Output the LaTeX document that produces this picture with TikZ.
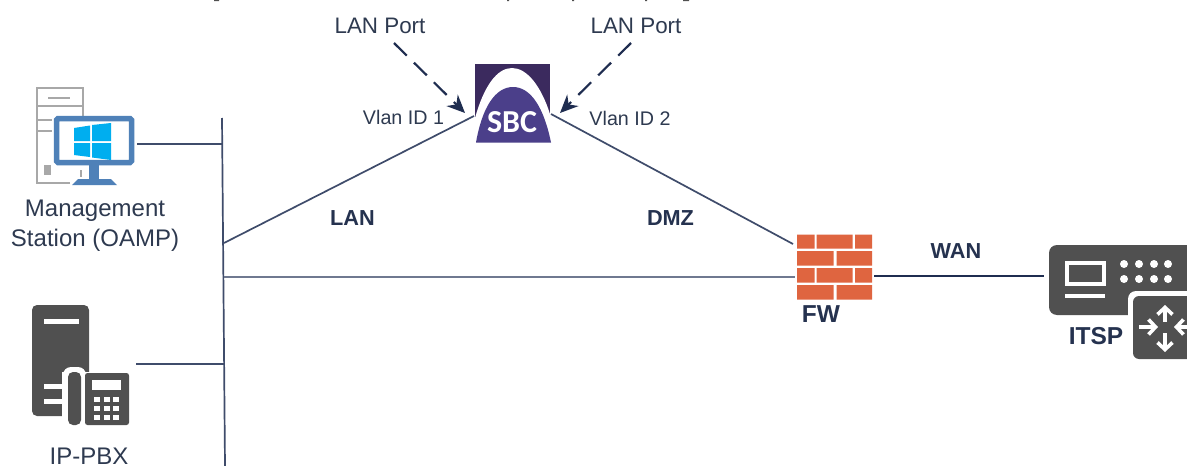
\documentclass[tikz,border=0pt]{standalone}
\usepackage{fontspec}
\setmainfont{Liberation Sans}
\newfontfamily\sbcfont{Carlito}
\usetikzlibrary{arrows.meta}
\definecolor{inkc}{HTML}{2E3A50}
\definecolor{boldc}{HTML}{25324F}
\definecolor{linec}{HTML}{3F4C6B}
\definecolor{navyc}{HTML}{1F2D50}
\definecolor{iconc}{HTML}{505050}
\definecolor{towerc}{HTML}{A8A8A8}
\definecolor{monc}{HTML}{4F81B8}
\definecolor{winc}{HTML}{00AEEF}
\definecolor{brickc}{HTML}{DF6540}
\definecolor{sbctop}{HTML}{3B2A5E}
\definecolor{sbcarch}{HTML}{4B3F8A}
\tikzset{
  x=1pt,y=-1pt,
  lbl/.style={anchor=base,inner sep=0pt,text=inkc},
  f24/.style={lbl,font=\fontsize{24}{28}\selectfont},
  f22/.style={lbl,font=\fontsize{22.4}{26}\selectfont},
  f20/.style={lbl,font=\fontsize{19.7}{24}\selectfont},
  bl/.style={anchor=base,inner sep=0pt,text=boldc,font=\fontsize{21.7}{26}\selectfont\bfseries},
  blb/.style={anchor=base,inner sep=0pt,text=boldc,font=\fontsize{24.5}{28}\selectfont\bfseries},
  icon/.style={inner sep=0pt,minimum width=#1},
  wire/.style={draw=linec,line width=1.7pt},
  bus/.style={draw=linec,line width=1.7pt},
  port/.style={draw=navyc,line width=2.2pt,dash pattern=on 18pt off 10pt,-{Stealth[length=18pt,width=16pt]}},
  brick/.style={fill=brickc,draw=none},
  rarrow/.style={white,line width=3.6pt,-{Straight Barb[length=7pt,width=15pt]}},
}
\begin{document}
\begin{tikzpicture}
\useasboundingbox (0,0) rectangle (1187,466);
\fill[white] (0,0) rectangle (1187,466);
% clipped caption descenders at the very top edge
\fill[iconc] (214,0) rectangle (219,1.2) (507,0) rectangle (509,1.2) (572,0) rectangle (574,1.2) (645,0) rectangle (647,1.2) (683,0) rectangle (689,1.2);

% anchors
\coordinate (mgmtport) at (137,144);
\coordinate (pbxport) at (136,364);
\coordinate (bustop) at (222,118);
\coordinate (busbot) at (225,466);
\coordinate (busA) at (222.3,144);
\coordinate (busB) at (224,243);
\coordinate (busC) at (224.3,277);
\coordinate (busD) at (223.5,364);
\coordinate (sbcL) at (474,116);
\coordinate (sbcR) at (551,114);
\coordinate (fwL) at (793,244);
\coordinate (fwM) at (795,277);
\coordinate (fwE) at (874,276);
\coordinate (itspW) at (1044,276);
\coordinate (portLa) at (394,43);
\coordinate (portLb) at (465,113);
\coordinate (portRa) at (631,43);
\coordinate (portRb) at (560,113);

% connectors
\draw[bus] (bustop) -- (busbot);
\draw[wire] (mgmtport) -- (busA);
\draw[wire] (pbxport) -- (busD);
\draw[wire] (busB) -- (sbcL);
\draw[wire] (sbcR) -- (fwL);
\draw[wire,draw=linec!75] (busC) -- (fwM);
\draw[wire,draw=navyc] (fwE) -- (itspW);
\draw[port] (portLa) -- (portLb);
\draw[port] (portRa) -- (portRb);

% Management station icon
\draw[towerc,line width=2pt] (70,183) -- (36.5,183) -- (36.5,88) -- (83,88) -- (83,116);
\draw[towerc,line width=2pt] (36.5,106) -- (83,106);
\draw[towerc,line width=2pt] (48,98) -- (70,98);
\draw[towerc,line width=2pt] (36.5,120) -- (52,120) (36.5,131) -- (52,131);
\fill[towerc] (44,165) rectangle (51,175);
\draw[towerc,line width=1.5pt] (81,170) -- (81,177);
\draw[monc,line width=5.5pt,rounded corners=1.5pt,fill=white] (56.5,118.5) rectangle (131.5,162.5);
\fill[monc] (89,165) rectangle (99,180);
\fill[monc] (72,185) -- (78,179) -- (111,179) -- (117,185) -- cycle;
\fill[winc] (74,128) -- (90,125.5) -- (90,141) -- (74,141) -- cycle;
\fill[winc] (92,125) -- (111,123) -- (111,141) -- (92,141) -- cycle;
\fill[winc] (74,143) -- (90,143) -- (90,157) -- (74,155) -- cycle;
\fill[winc] (92,143) -- (111,143) -- (111,160) -- (92,157.5) -- cycle;
\node[icon=100pt,minimum height=97pt] (mgmt) at (85,136) {};
\node[f24] (mgmtA) at (95,216) {Management};
\node[f24] (mgmtB) at (95,246) {Station (OAMP)};

% IP-PBX icon
\fill[iconc,rounded corners=5pt] (32,305) rectangle (89,416);
\fill[white] (44,319) rectangle (79,324);
\fill[white,rounded corners=8pt] (63,367) rectangle (86,430);
\fill[white] (62,372) rectangle (95,430);
\fill[white] (44,383.5) rectangle (63,388.5);
\fill[white] (44,399) rectangle (63,404);
\fill[iconc,rounded corners=5pt] (68,372) rectangle (81,425);
\fill[iconc,rounded corners=2.5pt] (85,373) rectangle (129,425);
\fill[white] (92,380) rectangle (121,390);
\foreach \kx in {97,107,116} \foreach \ky in {399,408,417}
  \fill[white] (\kx-2.7,\ky-2.5) rectangle (\kx+2.7,\ky+2.5);
\node[icon=97pt,minimum height=120pt] (pbx) at (80,365) {};
\node[f24] (pbxT) at (89,464.5) {IP-PBX};

% SBC icon
\fill[white] (475,64) rectangle (550,143);
\fill[sbctop] (475,64) rectangle (550,125) ;
\fill[white] (475,143) -- (475,118) .. controls (484,86) and (497,68) .. (512,68) .. controls (527,68) and (541,86) .. (550,114) -- (550,143) -- cycle;
\fill[sbcarch] (476,142.5) .. controls (482,108) and (495,87) .. (513,87) .. controls (531,87) and (544,108) .. (551,142.5) -- cycle;
\node[inner sep=0pt,anchor=base,text=white,font=\sbcfont\fontsize{32}{36}\selectfont\bfseries] (sbcT) at (512,132) {SBC};
\node[icon=75pt,minimum height=79pt] (sbc) at (512.5,103.5) {};

\node[f22] (lpL) at (380,33) {LAN Port};
\node[f22] (lpR) at (636,33) {LAN Port};
\node[f20] (vl1) at (403.5,124) {Vlan ID 1};
\node[f20] (vl2) at (630,125) {Vlan ID 2};
\node[bl] (lanT) at (352.5,225) {LAN};
\node[bl] (dmzT) at (670.5,225) {DMZ};
\node[bl] (wanT) at (956,258) {WAN};

% Firewall icon
\fill[brick] (797,234.5) rectangle (814.5,248.5) (816.5,234.5) rectangle (852.5,248.5) (855,234.5) rectangle (872,248.5);
\fill[brick] (797,251) rectangle (833.5,265.5) (836.5,251) rectangle (872,265.5);
\fill[brick] (797,268) rectangle (814.5,282.5) (816.5,268) rectangle (852.5,282.5) (855,268) rectangle (872,282.5);
\fill[brick] (797,285) rectangle (833.5,299.5) (836.5,285) rectangle (872,299.5);
\node[icon=75pt,minimum height=65pt] (fw) at (834.5,267) {};
\node[blb] (fwT) at (821,322) {FW};

% ITSP icon
\fill[iconc,rounded corners=8pt] (1049,245) rectangle (1200,315);
\fill[white,rounded corners=8pt] (1128,291) rectangle (1200,365);
\fill[white] (1128,316) rectangle (1132,365);
\fill[white] (1045,315.5) rectangle (1132,330);
\draw[white,line width=4pt] (1066.5,262.5) rectangle (1103.5,284);
\fill[white] (1065,294) rectangle (1105,298);
\foreach \dx in {1124,1139,1154,1168} \foreach \dy in {264,279}
  \fill[white] (\dx,\dy) circle (4pt);
\fill[iconc,rounded corners=6pt] (1133,296) rectangle (1200,359);
\draw[rarrow] (1165,322) -- (1165,305);
\draw[rarrow] (1165,333) -- (1165,352);
\draw[rarrow] (1139,327) -- (1158,327);
\draw[rarrow] (1192,327) -- (1174,327);
\node[icon=138pt,minimum height=114pt] (itsp) at (1118,302) {};
\node[blb] (itspT) at (1096,344) {ITSP};
\end{tikzpicture}
\end{document}
